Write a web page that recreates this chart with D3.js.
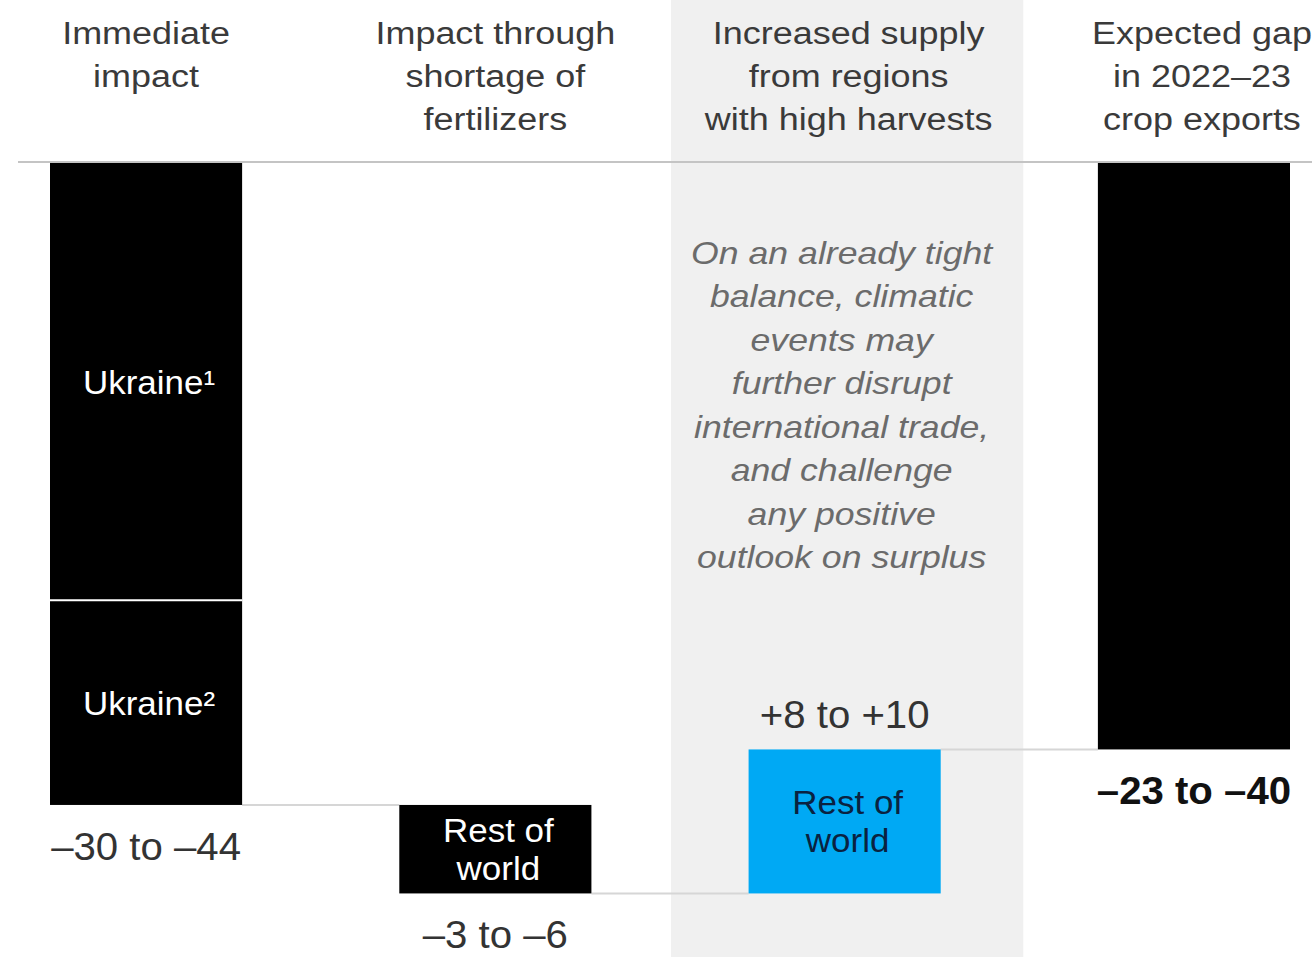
<!DOCTYPE html>
<html>
<head>
<meta charset="utf-8">
<script src="https://cdn.jsdelivr.net/npm/d3@7"></script>
<style>
  html, body { margin: 0; padding: 0; background: #fff; }
  svg { display: block; font-family: 'Liberation Sans', Arial, sans-serif; }
</style>
</head>
<body>
<div id="chart"></div>
<script>
// waterfall steps, in mn tonnes of crop exports
const steps = ['immediate', 'fertilizers', 'supply', 'gap']
const stepHeaders = [
  ['Immediate', 'impact'],
  ['Impact through', 'shortage of', 'fertilizers'],
  ['Increased supply', 'from regions', 'with high harvests'],
  ['Expected gap', 'in 2022–23', 'crop exports']
]
const segmentSteps = ['immediate', 'immediate', 'fertilizers', 'supply']
const segmentValues = [-25.2, -11.8, -5.1, 8.3]
const segmentLabels = [['Ukraine¹'], ['Ukraine²'], ['Rest of', 'world'], ['Rest of', 'world']]
const rangeLabels = ['–30 to –44', '–3 to –6', '+8 to +10', '–23 to –40']
const noteLines = [
  'On an already tight',
  'balance, climatic',
  'events may',
  'further disrupt',
  'international trade,',
  'and challenge',
  'any positive',
  'outlook on surplus'
]
const highlightStep = 'supply'

const width = 1312
const height = 957

const svg = d3.select('#chart').append('svg').attr('width', width).attr('height', height)

const x = d3.scaleBand().domain(steps).range([50, 1290]).paddingInner(0.45).paddingOuter(0)
const y = d3.scaleLinear().domain([0, -44]).range([163, 163 + 44 * 17.35])
const bw = x.bandwidth()
const cx = (s) => x(s) + bw / 2

// build waterfall pieces
let cum = 0
const pieces = segmentValues.map((v, i) => {
  const p = { step: segmentSteps[i], start: cum, end: cum + v, value: v, label: segmentLabels[i] }
  cum += v
  return p
})
const total = cum
pieces.push({ step: 'gap', start: 0, end: total, value: total, label: [] })

const stepExtent = steps.map((s) => {
  const ps = pieces.filter((p) => p.step === s)
  const lo = d3.min(ps, (p) => Math.min(p.start, p.end))
  const hi = d3.max(ps, (p) => Math.max(p.start, p.end))
  const net = d3.sum(ps, (p) => p.value)
  return { step: s, lo, hi, net: s === 'gap' ? total : net }
})

// highlighted column background
svg.append('rect')
  .attr('x', cx(highlightStep) - x.step() / 2 + 1)
  .attr('y', 0)
  .attr('width', x.step() + 3)
  .attr('height', height)
  .attr('fill', '#f0f0f0')

// baseline
svg.append('line')
  .attr('x1', x(steps[0]) - 32).attr('x2', width)
  .attr('y1', y(0) - 1).attr('y2', y(0) - 1)
  .attr('stroke', '#c4c4c4').attr('stroke-width', 2)

// connectors between steps
const connectors = []
for (let i = 0; i < steps.length - 1; i++) {
  const s = steps[i]
  const level = pieces.filter((p) => p.step === s).slice(-1)[0].end
  connectors.push({ from: s, to: steps[i + 1], level })
}
svg.append('g')
  .selectAll('line')
  .data(connectors)
  .join('line')
  .attr('x1', (d) => x(d.from) + bw)
  .attr('x2', (d) => x(d.to))
  .attr('y1', (d) => y(d.level))
  .attr('y2', (d) => y(d.level))
  .attr('stroke', '#d6d6d6')
  .attr('stroke-width', 2)

// bars
svg.append('g')
  .selectAll('rect')
  .data(pieces)
  .join('rect')
  .attr('x', (d) => x(d.step))
  .attr('width', bw)
  .attr('y', (d) => y(Math.max(d.start, d.end)))
  .attr('height', (d) => Math.abs(y(d.end) - y(d.start)))
  .attr('fill', (d) => (d.value > 0 && d.step !== 'gap' ? '#00a9f4' : '#000'))

// white divider between stacked segments of the same step
svg.append('g')
  .selectAll('line')
  .data(pieces.filter((p, i) => i > 0 && pieces[i - 1].step === p.step && p.step !== 'gap'))
  .join('line')
  .attr('x1', (d) => x(d.step)).attr('x2', (d) => x(d.step) + bw)
  .attr('y1', (d) => y(d.start)).attr('y2', (d) => y(d.start))
  .attr('stroke', '#fff').attr('stroke-width', 2)

function lines(sel, arr, lh) {
  sel.selectAll('tspan')
    .data(arr)
    .join('tspan')
    .attr('x', 0)
    .attr('dy', (d, i) => (i ? lh : 0))
    .text((d) => d)
}

// column headers
svg.append('g')
  .attr('fill', '#3a3a3a')
  .attr('font-size', 31)
  .attr('text-anchor', 'middle')
  .selectAll('text')
  .data(steps)
  .join('text')
  .attr('transform', (d) => `translate(${cx(d) + (d === 'gap' ? 8 : d === 'supply' ? 4 : 0)},44) scale(1.16,1)`)
  .each(function (d, i) { lines(d3.select(this), stepHeaders[i], 43) })

// labels inside bars
svg.append('g')
  .attr('font-size', 33)
  .attr('text-anchor', 'middle')
  .selectAll('text')
  .data(pieces.filter((p) => p.label.length))
  .join('text')
  .attr('fill', (d) => (d.value > 0 ? '#0a2240' : '#fff'))
  .attr('transform', (d) => {
    const mid = (y(d.start) + y(d.end)) / 2
    const first = mid - ((d.label.length - 1) * 38) / 2 + 12
    return `translate(${cx(d.step) + 3},${first}) scale(1.06,1)`
  })
  .each(function (d) { lines(d3.select(this), d.label, 38) })

// range labels
svg.append('g')
  .attr('font-size', 39)
  .attr('text-anchor', 'middle')
  .selectAll('text')
  .data(stepExtent)
  .join('text')
  .attr('transform', (d) => {
    const ty = d.net > 0 && d.step !== 'gap' ? y(d.hi) - 21 : y(d.lo) + 55
    return `translate(${cx(d.step)},${ty}) scale(1.03,1)`
  })
  .attr('fill', (d) => (d.step === 'gap' ? '#111' : '#333'))
  .attr('font-weight', (d) => (d.step === 'gap' ? 'bold' : null))
  .text((d, i) => rangeLabels[i])

// note in highlighted column
svg.append('text')
  .attr('fill', '#6b6b6b')
  .attr('font-size', 31)
  .attr('font-style', 'italic')
  .attr('text-anchor', 'middle')
  .attr('transform', `translate(${cx(highlightStep) - 3},264) scale(1.15,1)`)
  .call(lines, noteLines, 43.5)
</script>
</body>
</html>
